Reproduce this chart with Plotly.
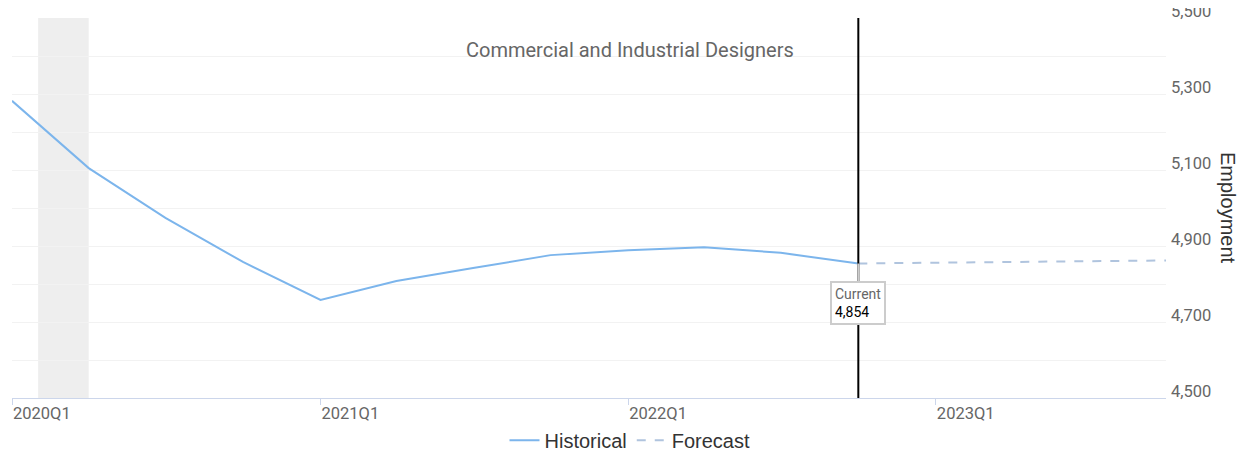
import plotly.graph_objects as go
import pandas as pd

# ---- data ----
hist_quarters = ["2020Q1", "2020Q2", "2020Q3", "2020Q4", "2021Q1", "2021Q2",
                 "2021Q3", "2021Q4", "2022Q1", "2022Q2", "2022Q3", "2022Q4"]
hist_values = [5282, 5105, 4974, 4858, 4758, 4808, 4842, 4876, 4889, 4897, 4882, 4854]

fc_quarters = ["2022Q4", "2023Q1", "2023Q2", "2023Q3", "2023Q4"]
fc_values = [4854, 4856, 4858, 4860, 4862]

tick_quarters = ["2020Q1", "2021Q1", "2022Q1", "2023Q1"]
current_quarter = "2022Q4"
current_value = 4854
recession = ("2020-02-01", "2020-04-01")
title_text = "Commercial and Industrial Designers"


def q2d(q):
    return pd.Period(q, freq="Q").start_time


hist_x = [q2d(q) for q in hist_quarters]
fc_x = [q2d(q) for q in fc_quarters]
tick_x = [q2d(q) for q in tick_quarters]

ROBOTO = "Roboto, 'Open Sans', sans-serif"
ARIAL = "'Liberation Sans', Arial, sans-serif"

fig = go.Figure()
fig.add_trace(go.Scatter(x=hist_x, y=hist_values, mode="lines", name="Historical",
                         line=dict(color="#7cb5ec", width=2)))
fig.add_trace(go.Scatter(x=fc_x, y=fc_values, mode="lines", name="Forecast",
                         line=dict(color="#b0c4de", width=2, dash="dash")))

# recession band
fig.add_shape(type="rect", xref="x", yref="paper", x0=recession[0], x1=recession[1],
              y0=0, y1=1, fillcolor="#eeeeee", line=dict(width=0), layer="below")
# current line
fig.add_shape(type="line", xref="x", yref="paper", x0=q2d(current_quarter), x1=q2d(current_quarter),
              y0=0, y1=1, line=dict(color="black", width=2))

fig.add_annotation(x=q2d(current_quarter), y=current_value, xref="x", yref="y",
                   text="<span style='color:#666'>Current</span><br><span style='color:#000'>{:,}</span>".format(current_value),
                   showarrow=True, arrowhead=0, arrowcolor="#cccccc", arrowwidth=2,
                   ax=0, ay=40, align="left", bgcolor="white", bordercolor="#cccccc",
                   borderwidth=2, borderpad=3, font=dict(family=ROBOTO, size=14))

PL, PR, PT, PB = 12, 1166, 18, 398  # plot area in screen pixels
W = PR - PL
H = PB - PT


def px(x):
    return (x - PL) / W


def py(y):
    return (PB - y) / H


fig.add_annotation(x=px(630), y=py(50), xref="paper", yref="paper", text=title_text,
                   xanchor="center", yanchor="middle",
                   showarrow=False, font=dict(family=ROBOTO, size=20, color="#666666"))

fig.add_annotation(x=px(1228), y=py(208), xref="paper", yref="paper", text="Employment",
                   xanchor="center", yanchor="middle",
                   showarrow=False, textangle=90, font=dict(family=ARIAL, size=20, color="#333333"))

# page body has an 8px margin: figure spans screen 8..1251 / 8..453
fig.update_layout(
    width=1243, height=445,
    margin=dict(l=PL - 8, r=1251 - PR, t=PT - 8, b=453 - PB, autoexpand=False),
    paper_bgcolor="white", plot_bgcolor="white",
    font=dict(family=ROBOTO),
    showlegend=True,
    legend=dict(orientation="h", x=px(630), xanchor="center", y=-0.06, yanchor="top",
                font=dict(family=ARIAL, size=20, color="#333333"), itemwidth=30),
    xaxis=dict(range=[q2d("2020Q1"), q2d("2023Q4")], tickvals=tick_x, ticktext=tick_quarters,
               showgrid=False, showline=True, linecolor="#ccd6eb", linewidth=1,
               ticks="outside", ticklen=6, tickcolor="#ccd6eb",
               ticklabelposition="outside right", automargin=False,
               tickfont=dict(family=ROBOTO, size=16.5, color="#666666"), zeroline=False),
    yaxis=dict(range=[4500, 5500], side="right", tick0=4500, dtick=200,
               tickformat=",", showgrid=True, gridcolor="#f2f2f2", zeroline=False,
               minor=dict(dtick=100, showgrid=True, gridcolor="#f2f2f2"),
               tickfont=dict(family=ROBOTO, size=16.5, color="#666666"), automargin=False,
               ticklabelshift=-7, ticklabelstandoff=4, ticklabeloverflow="allow"),
)

fig.write_html("out.html")
